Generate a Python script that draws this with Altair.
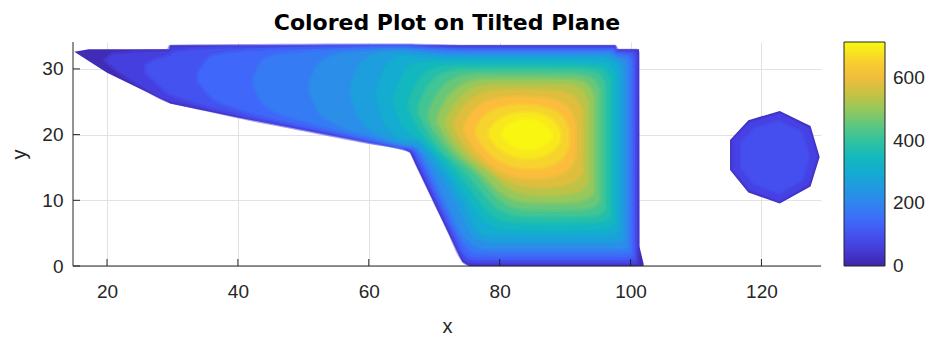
import altair as alt
import pandas as pd

TITLE = "Colored Plot on Tilted Plane"
X_TICKS = [20, 40, 60, 80, 100, 120]
Y_TICKS = [0, 10, 20, 30]
C_TICKS = [0, 200, 400, 600]
X_DOMAIN = [14.8, 129.1]
Y_DOMAIN = [0, 34.1]
C_MIN, C_MAX = -1, 715

# parula colormap (approximate stops)
PARULA_POS = [0.00, 0.10, 0.20, 0.30, 0.40, 0.50, 0.60, 0.70, 0.78, 0.86, 0.93, 1.00]
PARULA_HEX = ["#3e26a8", "#4743e9", "#3f68fb", "#2d8ceb", "#14a8d6", "#13bcb8",
              "#48c68e", "#96c85c", "#cdc13e", "#fcba3d", "#f6d72a", "#f9fb0e"]

# filled contour regions: (x, upper y, lower y)
D = [(15.0, 32.6, 32.6), (17.2, 33.0, 31.2), (20.0, 33.0, 29.4), (29.5, 33.0, 24.8),
     (29.6, 33.6, 24.75), (40.0, 33.6, 22.6), (60.0, 33.6, 18.8), (65.0, 33.6, 17.9),
     (66.3, 33.6, 17.3), (67.0, 33.6, 15.8), (73.6, 33.6, 2.0), (74.3, 33.6, 0.6),
     (75.3, 33.6, 0.0), (97.7, 33.6, 0.0), (97.75, 33.0, 0.0), (101.3, 33.0, 0.0),
     (101.35, 3.0, 0.0), (102.0, 0.3, 0.0)]
L40 = [(19.8, 31.3, 31.3), (21.0, 32.2, 30.3), (23.0, 32.35, 28.8), (25.0, 32.55, 27.6),
       (29.5, 32.7, 25.2), (29.7, 33.3, 25.15), (35.0, 33.38, 23.95), (40.0, 33.42, 22.85),
       (50.0, 33.46, 20.9), (60.0, 33.5, 18.95), (65.0, 33.5, 18.05), (66.4, 33.5, 17.55),
       (67.7, 33.45, 15.0), (70.1, 33.4, 10.0), (72.5, 33.35, 5.0), (74.1, 33.3, 1.5),
       (74.8, 33.3, 0.6), (75.6, 33.3, 0.35), (97.6, 33.3, 0.35), (97.8, 32.7, 0.35),
       (100.9, 32.7, 0.35), (101.0, 32.4, 0.4)]
L80 = [(26.0, 30.6, 29.4), (28.0, 31.5, 27.6), (29.5, 31.95, 26.3), (30.5, 32.5, 25.9),
       (35.0, 32.97, 24.47), (40.0, 33.14, 23.2), (45.0, 33.25, 22.06), (50.0, 33.31, 21.08),
       (55.0, 33.36, 20.06), (60.0, 33.4, 19.06), (65.0, 33.42, 18.11), (66.5, 33.4, 17.75),
       (68.0, 33.3, 15.0), (70.4, 33.25, 10.0), (72.8, 33.2, 5.0), (74.3, 33.2, 1.9),
       (75.2, 33.2, 1.0), (76.2, 33.2, 0.8), (97.5, 33.2, 0.8), (97.9, 32.55, 0.8),
       (100.4, 32.45, 0.85), (100.7, 31.8, 1.0)]
L120 = [(34.0, 29.3, 28.2), (36.0, 31.8, 25.8), (40.0, 32.5, 24.03), (45.0, 32.85, 22.58),
        (50.0, 33.03, 21.44), (55.0, 33.15, 20.34), (60.0, 33.25, 19.26), (65.0, 33.3, 18.21),
        (66.6, 33.25, 17.9), (68.4, 33.15, 15.0), (70.8, 33.0, 10.0), (73.2, 32.9, 5.0),
        (74.6, 32.9, 2.2), (75.6, 32.9, 1.45), (76.8, 32.9, 1.3), (97.3, 32.9, 1.3),
        (97.9, 32.3, 1.3), (99.9, 32.1, 1.4), (100.3, 31.3, 1.6)]
L160 = [(42.5, 28.6, 27.6), (43.5, 30.8, 25.3), (45.0, 31.8, 23.94), (50.0, 32.45, 22.2),
        (55.0, 32.82, 20.76), (60.0, 33.05, 19.52), (65.0, 33.15, 18.39), (66.8, 33.05, 18.1),
        (68.9, 32.9, 15.0), (71.3, 32.75, 10.0), (73.7, 32.65, 5.0), (75.0, 32.6, 3.0),
        (76.2, 32.6, 2.2), (77.6, 32.6, 2.0), (97.0, 32.6, 2.0), (97.9, 32.0, 2.0),
        (99.5, 31.8, 2.1), (99.9, 30.9, 2.4)]
L200 = [(51.0, 27.8, 26.6), (52.2, 30.5, 23.8), (55.0, 32.1, 21.7), (60.0, 32.67, 20.01),
        (65.0, 32.9, 18.59), (67.0, 32.75, 18.3), (69.4, 32.55, 15.0), (71.8, 32.4, 10.0),
        (74.3, 32.3, 5.0), (75.5, 32.3, 3.7), (76.8, 32.3, 2.9), (78.4, 32.3, 2.7),
        (96.7, 32.3, 2.7), (97.9, 31.7, 2.7), (99.0, 31.3, 2.8), (99.4, 30.3, 3.1)]
L240 = [(57.3, 27.2, 25.9), (58.3, 30.0, 23.0), (61.0, 32.2, 20.42), (63.0, 32.5, 19.55),
        (65.0, 32.5, 18.94), (67.3, 32.3, 18.4), (70.3, 32.05, 15.0), (73.3, 31.95, 10.0),
        (75.8, 31.9, 5.0), (77.0, 31.9, 4.1), (78.5, 31.9, 3.7), (80.5, 31.9, 3.6),
        (96.3, 31.9, 3.6), (97.8, 31.3, 3.7), (98.5, 30.8, 3.9), (98.8, 29.7, 4.3)]
L280 = [(61.2, 26.5, 25.5), (62.3, 29.8, 22.0), (65.0, 32.0, 19.53), (67.6, 31.8, 19.0),
        (71.2, 31.6, 15.0), (74.4, 31.5, 10.0), (77.2, 31.5, 5.0), (78.5, 31.5, 4.7),
        (80.5, 31.5, 4.6), (95.8, 31.5, 4.6), (97.4, 31.0, 4.8), (98.0, 30.2, 5.3),
        (98.2, 28.5, 6.2)]
L320 = [(63.9, 25.7, 24.9), (64.9, 28.6, 21.8), (66.2, 30.5, 20.3), (68.0, 31.0, 19.5),
        (72.2, 31.0, 15.0), (75.6, 31.0, 10.0), (77.3, 31.0, 7.2), (79.3, 31.0, 5.9),
        (81.5, 31.0, 5.6), (95.0, 31.0, 5.6), (96.8, 30.5, 5.9), (97.5, 29.0, 6.8)]
L360 = [(66.2, 25.0, 24.0), (67.2, 27.7, 21.6), (68.7, 29.5, 19.5), (70.3, 30.2, 17.8),
        (73.3, 30.4, 15.0), (76.9, 30.4, 10.0), (78.6, 30.4, 7.9), (80.8, 30.4, 6.8),
        (83.0, 30.4, 6.6), (94.2, 30.4, 6.6), (96.1, 29.9, 6.9), (96.8, 28.3, 7.8)]
L400 = [(67.7, 24.3, 23.3), (68.7, 26.8, 21.1), (70.2, 28.7, 18.9), (72.0, 29.5, 16.7),
        (74.5, 29.8, 15.0), (78.4, 29.8, 10.0), (80.0, 29.8, 8.5), (82.5, 29.8, 7.7),
        (84.5, 29.8, 7.6), (93.3, 29.8, 7.6), (95.3, 29.3, 7.9), (96.0, 27.6, 8.8)]
L440 = [(69.2, 23.4, 22.4), (70.2, 25.8, 20.4), (71.8, 27.8, 18.2), (73.7, 28.8, 16.2),
        (75.8, 29.1, 15.0), (78.0, 29.1, 12.3), (80.0, 29.1, 10.0), (82.3, 29.1, 8.8),
        (84.5, 29.1, 8.6), (92.3, 29.1, 8.6), (94.4, 28.6, 9.0), (95.2, 26.6, 10.0)]
L480 = [(70.6, 22.8, 21.8), (71.6, 25.0, 19.8), (73.2, 26.9, 17.6), (75.2, 28.0, 15.8),
        (77.2, 28.4, 14.4), (79.5, 28.4, 11.8), (81.7, 28.4, 10.2), (84.5, 28.4, 9.7),
        (91.3, 28.4, 9.7), (93.5, 27.9, 10.2), (94.3, 25.8, 11.2)]
L520 = [(71.9, 22.4, 21.4), (72.9, 24.4, 19.4), (74.5, 26.2, 17.3), (76.5, 27.3, 15.7),
        (78.7, 27.6, 14.3), (81.0, 27.6, 12.0), (83.5, 27.6, 11.0), (86.0, 27.6, 10.8),
        (90.5, 27.6, 10.9), (92.6, 27.0, 11.5), (93.4, 24.8, 12.8)]
L560 = [(73.2, 22.0, 21.0), (74.2, 23.9, 19.0), (75.8, 25.5, 17.0), (78.0, 26.5, 15.2),
        (80.5, 26.7, 13.3), (83.5, 26.7, 12.2), (86.0, 26.7, 12.0), (89.5, 26.5, 12.2),
        (91.6, 25.8, 12.9), (92.5, 23.6, 14.3)]
L600 = [(74.7, 21.5, 20.5), (75.7, 23.3, 18.6), (77.3, 24.7, 16.7), (79.5, 25.5, 14.8),
        (82.5, 25.7, 13.5), (86.0, 25.6, 13.3), (89.0, 25.1, 13.8), (90.9, 23.8, 15.0),
        (91.5, 21.5, 16.8)]
L640 = [(76.5, 21.0, 20.0), (77.5, 22.7, 18.2), (79.3, 23.9, 16.4), (82.0, 24.5, 15.1),
        (85.5, 24.4, 14.8), (88.3, 23.8, 15.4), (90.0, 22.3, 16.8), (90.5, 20.3, 18.5)]
L680 = [(78.5, 20.6, 19.8), (79.5, 22.0, 18.2), (81.5, 23.1, 16.9), (84.0, 23.4, 16.3),
        (86.5, 23.1, 16.6), (88.4, 22.0, 17.7), (89.2, 20.3, 19.2)]
L700 = [(80.5, 20.4, 19.8), (81.5, 21.7, 18.4), (84.0, 22.4, 17.6), (86.3, 22.0, 18.0),
        (87.8, 20.3, 19.4)]
DISK_OUT = [(115.2, 19.2, 14.6), (118.0, 22.2, 11.2), (122.8, 23.6, 9.5),
            (127.5, 21.3, 12.1), (128.9, 16.6, 16.6)]
DISK_MID = [(115.6, 19.1, 14.7), (118.2, 21.8, 11.6), (122.8, 23.2, 9.9),
            (127.2, 21.0, 12.4), (128.5, 16.6, 16.6)]
DISK_IN = [(116.9, 18.7, 15.0), (118.9, 20.9, 12.5), (122.7, 22.0, 11.1),
           (126.2, 20.3, 13.1), (127.3, 16.6, 16.6)]

REGIONS = [D, L40, L80, L120, L160, L200, L240, L280, L320, L360, L400, L440, L480,
           L520, L560, L600, L640, L680, L700, DISK_OUT, DISK_MID, DISK_IN]
REGION_VALUES = [15, 60, 100, 140, 180, 220, 260, 300, 340, 380, 420, 460, 500,
                 540, 580, 620, 658, 690, 708, 25, 65, 92]
REGION_CURVE = (["linear"] + ["monotone"] * 7 + ["basis"] * 11 + ["linear"] * 3)
REGION_BLEND = [0] + [5] * 18 + [0, 3, 4]

FONT = "Liberation Sans"
TXT = "#262626"
W, H = 748, 224

cdomain = [C_MIN + p * (C_MAX - C_MIN) for p in PARULA_POS]


def _rgb(h):
    return tuple(int(h[i:i + 2], 16) for i in (1, 3, 5))


def edge_color(v):
    # same piecewise-linear RGB mapping as the colour scale, for the soft band edges
    v = min(max(v, cdomain[0]), cdomain[-1])
    for k in range(len(cdomain) - 1):
        a, b = cdomain[k], cdomain[k + 1]
        if v <= b:
            t = (v - a) / (b - a)
            c0, c1 = _rgb(PARULA_HEX[k]), _rgb(PARULA_HEX[k + 1])
            return "#%02x%02x%02x" % tuple(
                int(round(c0[j] + (c1[j] - c0[j]) * t)) for j in range(3))
    return PARULA_HEX[-1]


xscale = alt.Scale(domain=X_DOMAIN, nice=False, zero=False)
yscale = alt.Scale(domain=Y_DOMAIN, nice=False, zero=False)
cscale = alt.Scale(domain=cdomain, range=PARULA_HEX, interpolate="rgb", clamp=True)
xaxis = alt.Axis(values=X_TICKS, title="x", grid=True, domain=False, ticks=False,
                 labelPadding=16, titlePadding=15)
yaxis = alt.Axis(values=Y_TICKS, title="y", grid=True, domain=False, ticks=False,
                 labelPadding=10, titlePadding=12)
legend = alt.Legend(orient="none", legendX=771, legendY=0, direction="vertical",
                    gradientLength=H, gradientThickness=41,
                    gradientStrokeColor=TXT, gradientStrokeWidth=1,
                    values=C_TICKS, labelFontSize=19, labelColor=TXT, labelFont=FONT,
                    labelOffset=8, labelOverlap=False, title=None)

layers = []
for reg, val, curve, blend in zip(REGIONS, REGION_VALUES, REGION_CURVE, REGION_BLEND):
    df = pd.DataFrame(reg, columns=["x", "top", "bottom"])
    df["v"] = val
    if blend:
        mark = alt.MarkDef(type="area", interpolate=curve, stroke=edge_color(val),
                           strokeWidth=blend, strokeOpacity=0.5, strokeJoin="round")
    else:
        mark = alt.MarkDef(type="area", interpolate=curve, strokeWidth=0)
    layers.append(
        alt.Chart(df, mark=mark).encode(
            x=alt.X("x:Q", scale=xscale, axis=xaxis),
            y=alt.Y("top:Q", scale=yscale, axis=yaxis),
            y2="bottom:Q",
            color=alt.Color("v:Q", scale=cscale, legend=legend),
        )
    )

axis_df = pd.DataFrame({"k": [0]})
layers.append(alt.Chart(axis_df).mark_rule(color=TXT, strokeWidth=1).encode(
    x=alt.value(0), y=alt.value(0), y2=alt.value(H)))
layers.append(alt.Chart(axis_df).mark_rule(color=TXT, strokeWidth=1).encode(
    x=alt.value(0), x2=alt.value(W), y=alt.value(H)))
xt = pd.DataFrame({"t": X_TICKS})
layers.append(alt.Chart(xt).mark_rule(color=TXT, strokeWidth=1).encode(
    x=alt.X("t:Q", scale=xscale, axis=xaxis), y=alt.value(H), y2=alt.value(H - 7)))
yt = pd.DataFrame({"t": Y_TICKS})
layers.append(alt.Chart(yt).mark_rule(color=TXT, strokeWidth=1).encode(
    y=alt.Y("t:Q", scale=yscale, axis=yaxis), x=alt.value(0), x2=alt.value(7)))

chart = alt.layer(*layers).properties(
    width=W, height=H,
    title=alt.TitleParams(TITLE, anchor="middle", fontSize=22, fontWeight="bold",
                          font="DejaVu Sans", color="#000000", offset=7),
    autosize=alt.AutoSizeParams(type="none"),
    padding={"left": 65, "top": 34, "right": 107, "bottom": 70},
).configure_view(stroke=None).configure_axis(
    labelFont=FONT, labelFontSize=19, labelColor=TXT, titleFont=FONT,
    titleFontSize=20, titleFontWeight="normal", titleColor=TXT,
    gridColor="#e2e2e2", gridWidth=1,
)

chart.save("out.html", embed_options={"renderer": "svg", "actions": False})
